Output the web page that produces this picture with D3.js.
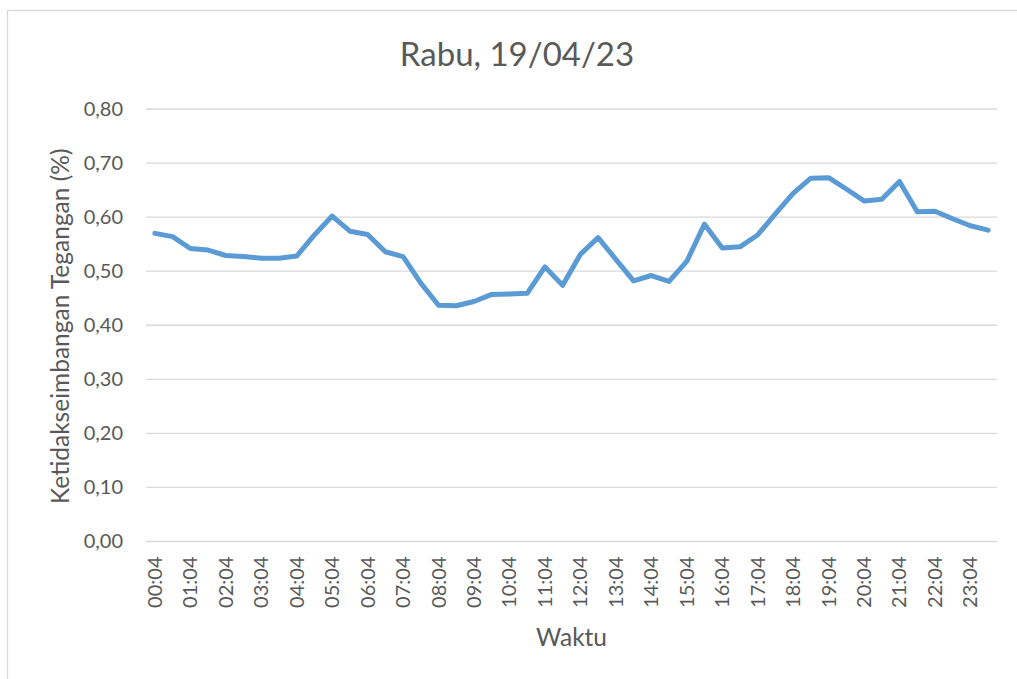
<!DOCTYPE html>
<html>
<head>
<meta charset="utf-8">
<script src="https://cdn.jsdelivr.net/npm/d3@7"></script>
<style>
    body { margin: 0; background: #fff; }
    svg { display: block; font-family: Lato, "Open Sans", sans-serif; }
    .tick text { fill: #595959; }
    .axisText { fill: #595959; }
</style>
</head>
<body>
<div id="chart"></div>
<script>
// half-hourly readings
var times = ["00:04", "00:34", "01:04", "01:34", "02:04", "02:34", "03:04", "03:34",
    "04:04", "04:34", "05:04", "05:34", "06:04", "06:34", "07:04", "07:34",
    "08:04", "08:34", "09:04", "09:34", "10:04", "10:34", "11:04", "11:34",
    "12:04", "12:34", "13:04", "13:34", "14:04", "14:34", "15:04", "15:34",
    "16:04", "16:34", "17:04", "17:34", "18:04", "18:34", "19:04", "19:34",
    "20:04", "20:34", "21:04", "21:34", "22:04", "22:34", "23:04", "23:34"];

var unbalance = [0.570, 0.564, 0.542, 0.539, 0.529, 0.527, 0.524, 0.524,
    0.528, 0.567, 0.602, 0.574, 0.568, 0.536, 0.527, 0.478,
    0.437, 0.436, 0.444, 0.457, 0.458, 0.459, 0.508, 0.474,
    0.531, 0.562, 0.522, 0.482, 0.492, 0.481, 0.518, 0.587,
    0.543, 0.545, 0.567, 0.606, 0.644, 0.672, 0.673, 0.652,
    0.630, 0.633, 0.666, 0.610, 0.611, 0.597, 0.584, 0.576];

var yTicks = [0, 0.1, 0.2, 0.3, 0.4, 0.5, 0.6, 0.7, 0.8];

var svgWidth = 1017;
var svgHeight = 679;

var margin = { top: 109, right: 20, bottom: 137.5, left: 146 };
var chart_width = 997 - margin.left;
var chart_height = 541.5 - margin.top;

var svg = d3.select("#chart")
    .append("svg")
    .attr("width", svgWidth)
    .attr("height", svgHeight);

// chart area border (runs off the right and bottom edges)
svg.append("rect")
    .attr("x", 7.5)
    .attr("y", 10.5)
    .attr("width", 1100)
    .attr("height", 1000)
    .attr("fill", "none")
    .attr("stroke", "#d9d9d9")
    .attr("stroke-width", 1.3);

var chartGroup = svg.append("g")
    .attr("transform", `translate(${margin.left}, ${margin.top})`);

var xScale = d3.scaleBand()
    .domain(times)
    .range([0, chart_width])
    .padding(0);

var yScale = d3.scaleLinear()
    .domain([0, 0.8])
    .range([chart_height, 0]);

var fmt = function(d) { return d3.format(".2f")(d).replace(".", ","); };

// gridlines
chartGroup.append("g")
    .selectAll("line")
    .data(yTicks)
    .enter()
    .append("line")
    .attr("x1", 0)
    .attr("x2", chart_width)
    .attr("y1", d => yScale(d))
    .attr("y2", d => yScale(d))
    .attr("stroke", "#d9d9d9")
    .attr("stroke-width", 1.3);

// y axis labels
var leftAxis = d3.axisLeft(yScale)
    .tickValues(yTicks)
    .tickFormat(fmt)
    .tickSize(0)
    .tickPadding(23);

chartGroup.append("g")
    .call(leftAxis)
    .call(g => g.select(".domain").remove())
    .selectAll("text")
    .attr("font-size", 20)
    .attr("font-family", "Lato");

// x axis labels, every other slot
var bottomAxis = d3.axisBottom(xScale)
    .tickValues(times.filter((d, i) => i % 2 == 0))
    .tickSize(0);

chartGroup.append("g")
    .attr("transform", `translate(0, ${chart_height})`)
    .call(bottomAxis)
    .call(g => g.select(".domain").remove())
    .selectAll("text")
    .attr("font-size", 20)
    .attr("font-family", "Lato")
    .attr("transform", "rotate(-90)")
    .attr("text-anchor", "end")
    .attr("x", -15)
    .attr("y", 0)
    .attr("dy", "0.35em");

// the line
var line = d3.line()
    .x((d, i) => xScale(times[i]) + xScale.bandwidth() / 2)
    .y(d => yScale(d));

chartGroup.append("path")
    .datum(unbalance)
    .attr("d", line)
    .attr("fill", "none")
    .attr("stroke", "#5b9bd5")
    .attr("stroke-width", 5)
    .attr("stroke-linejoin", "round")
    .attr("stroke-linecap", "round");

// titles
svg.append("text")
    .attr("x", 517)
    .attr("y", 66)
    .attr("text-anchor", "middle")
    .attr("class", "axisText")
    .attr("font-size", 33)
    .text("Rabu, 19/04/23");

svg.append("text")
    .attr("transform", `translate(69, ${margin.top + chart_height / 2 + 1}) rotate(-90)`)
    .attr("text-anchor", "middle")
    .attr("class", "axisText")
    .attr("font-size", 24.5)
    .text("Ketidakseimbangan Tegangan (%)");

svg.append("text")
    .attr("x", margin.left + chart_width / 2)
    .attr("y", 646)
    .attr("text-anchor", "middle")
    .attr("class", "axisText")
    .attr("font-size", 24.5)
    .text("Waktu");
</script>
</body>
</html>
